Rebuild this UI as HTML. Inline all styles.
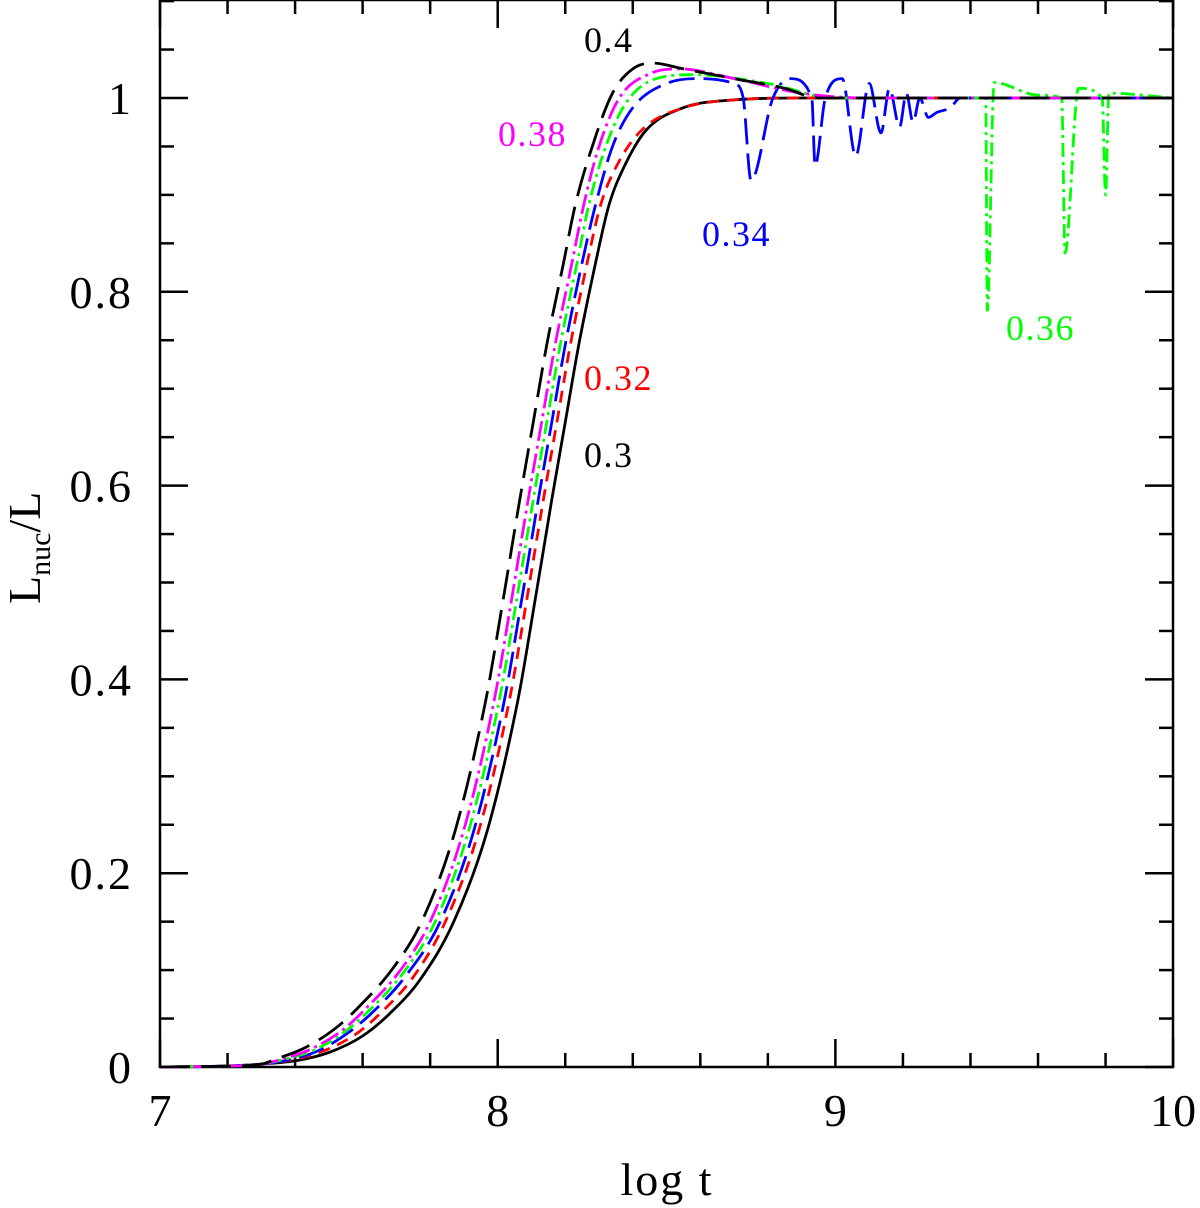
<!DOCTYPE html>
<html><head><meta charset="utf-8">
<style>
html,body{margin:0;padding:0;background:#fff;}
svg{display:block;font-family:"Liberation Serif",serif;}
</style></head>
<body>
<svg id="chart" width="1200" height="1208" viewBox="0 0 1200 1208" xmlns="http://www.w3.org/2000/svg">
<g id="axes"></g>
<g id="series" fill="none"></g>
<g id="labels"></g>
</svg>
<script>
const xTicks=[7,8,9,10];
const yTicks=[0,0.2,0.4,0.6,0.8,1];
const yTickLabels=["0","0.2","0.4","0.6","0.8","1"];

const x30=[7,7.2,7.3,7.41,7.5,7.6,7.68,7.77,7.87,7.97,8.06,8.11,8.16,8.2,8.24,8.29,8.33,8.38,8.44,8.55,8.7,8.9,10];
const y30=[0,0.001,0.003,0.007,0.015,0.032,0.055,0.09,0.15,0.245,0.379,0.48,0.585,0.665,0.745,0.83,0.89,0.933,0.967,0.99,0.998,1,1];
const x32=[7,7.2,7.3,7.4,7.48,7.58,7.66,7.75,7.845,7.945,8.035,8.085,8.135,8.175,8.215,8.265,8.305,8.36,8.43,8.55,8.7,8.9,10];
const y32=[0,0.001,0.003,0.008,0.016,0.034,0.058,0.093,0.15,0.245,0.379,0.48,0.585,0.665,0.745,0.83,0.89,0.935,0.968,0.99,0.998,1,1];
const x34=[7,7.2,7.3,7.39,7.47,7.56,7.64,7.73,7.83,7.93,8.02,8.07,8.12,8.16,8.2,8.25,8.29,8.34,8.4,8.5,8.6,8.7,8.727,8.75,8.815,8.866,8.93,8.94,8.97,9.02,9.06,9.1,9.135,9.16,9.19,9.21,9.23,9.25,9.275,9.3,9.34,9.37,10];
const y34=[0,0.001,0.003,0.008,0.017,0.036,0.06,0.095,0.15,0.245,0.379,0.48,0.585,0.665,0.745,0.83,0.89,0.95,0.99,1.015,1.02,1.015,1.0,0.915,1.0,1.02,1.0,0.93,1.0,1.02,0.94,1.015,0.964,1.01,0.97,1.005,0.975,1.0,0.98,0.985,0.99,1.0,1];
const x36=[7,7.2,7.3,7.38,7.46,7.55,7.63,7.72,7.815,7.915,8.005,8.055,8.105,8.145,8.185,8.235,8.27,8.32,8.38,8.47,8.58,8.8,9.0,9.43,9.445,9.45,9.47,9.6,9.67,9.68,9.72,9.79,9.8,9.81,10];
const y36=[0,0.001,0.003,0.009,0.018,0.037,0.062,0.097,0.15,0.245,0.379,0.48,0.585,0.665,0.745,0.83,0.89,0.95,0.995,1.02,1.024,1.015,1.0,1.0,1.0,0.781,1.016,1.003,1.0,0.84,1.01,1.0,0.9,1.005,1];
const x38=[7,7.2,7.3,7.37,7.45,7.54,7.62,7.71,7.8,7.9,7.99,8.04,8.09,8.13,8.17,8.22,8.255,8.3,8.36,8.45,8.54,8.7,8.9,9.1,10];
const y38=[0,0.001,0.003,0.009,0.019,0.038,0.064,0.099,0.15,0.245,0.379,0.48,0.585,0.665,0.745,0.83,0.89,0.95,1.0,1.025,1.03,1.02,1.005,1.0,1];
const x40=[7,7.2,7.3,7.35,7.43,7.52,7.6,7.69,7.775,7.875,7.965,8.015,8.065,8.105,8.145,8.195,8.23,8.28,8.34,8.4,8.46,8.55,8.7,8.85,8.95,10];
const y40=[0,0.001,0.003,0.009,0.02,0.04,0.066,0.102,0.15,0.245,0.379,0.48,0.585,0.665,0.745,0.83,0.89,0.95,1.005,1.03,1.036,1.03,1.02,1.01,1.0,1];

const X=v=>160+(v-7)*337.7;
const Y=v=>1067-v*969;
const NS="http://www.w3.org/2000/svg";
const axes=document.getElementById('axes');
function mk(tag,attrs,parent){const e=document.createElementNS(NS,tag);for(const k in attrs)e.setAttribute(k,attrs[k]);parent.appendChild(e);return e;}

const frame=mk('rect',{x:160,y:0,width:1013,height:1067,fill:'none',stroke:'#000','stroke-width':2.5},axes);


for(let i=0;i<=15;i++){
  const v=7+i*0.2;const major=i%5==0;const L=major?28:14;
  const t1=mk('line',{x1:X(v),x2:X(v),y1:1067,y2:1067-L,stroke:'#000','stroke-width':2.5},axes);
  
  
  const t2=mk('line',{x1:X(v),x2:X(v),y1:0,y2:L,stroke:'#000','stroke-width':2.5},axes);
  
  
}
for(let i=0;i<=22;i++){
  const v=i*0.05;const major=i%4==0;const L=major?28:14;
  const t1=mk('line',{x1:160,x2:160+L,y1:Y(v),y2:Y(v),stroke:'#000','stroke-width':2.5},axes);
  
  
  const t2=mk('line',{x1:1173,x2:1173-L,y1:Y(v),y2:Y(v),stroke:'#000','stroke-width':2.5},axes);
  
  
}
xTicks.forEach(v=>{const t=mk('text',{x:X(v),y:1126,'text-anchor':'middle','font-size':46},axes);t.textContent=String(v);
  
  });
yTicks.forEach((v,i)=>{const t=mk('text',{x:133,y:Y(v)+16,'text-anchor':'end','font-size':46,'letter-spacing':2},axes);t.textContent=yTickLabels[i];
  
  });
const xt=mk('text',{x:667,y:1195,'text-anchor':'middle','font-size':46,'letter-spacing':2},axes);xt.textContent='log  t';


const yt=mk('text',{transform:'translate(40,604) rotate(-90)','font-size':46},axes);


yt.innerHTML='L<tspan font-size="30" dy="10">nuc</tspan><tspan dy="-10">/L</tspan>';

// monotone cubic (Fritsch-Carlson) in pixel space: no overshoot
function smooth(px,py){
  const n=px.length,d=[],m=[];
  for(let i=0;i<n-1;i++)d.push((py[i+1]-py[i])/(px[i+1]-px[i]));
  m[0]=d[0];m[n-1]=d[n-2];
  for(let i=1;i<n-1;i++){m[i]=(d[i-1]*d[i]<=0)?0:(d[i-1]+d[i])/2;}
  for(let i=0;i<n-1;i++){
    if(d[i]===0){m[i]=0;m[i+1]=0;continue;}
    const a=m[i]/d[i],b=m[i+1]/d[i],s=a*a+b*b;
    if(s>9){const t=3/Math.sqrt(s);m[i]=t*a*d[i];m[i+1]=t*b*d[i];}
  }
  let p='M'+px[0].toFixed(1)+','+py[0].toFixed(1);
  for(let i=0;i<n-1;i++){
    const h=(px[i+1]-px[i])/3;
    p+=' C'+(px[i]+h).toFixed(1)+','+(py[i]+m[i]*h).toFixed(1)+' '+(px[i+1]-h).toFixed(1)+','+(py[i+1]-m[i+1]*h).toFixed(1)+' '+px[i+1].toFixed(1)+','+py[i+1].toFixed(1);
  }
  return p;
}
const sg=document.getElementById('series');
const defs=[[x30,y30,'#000','','series-0.3'],[x32,y32,'#f00','12 8','series-0.32'],[x34,y34,'#00f','26 9','series-0.34'],[x36,y36,'#0f0','14 5 3 5','series-0.36'],[x38,y38,'#f0f','20 5 3 5','series-0.38'],[x40,y40,'#000','30 11','series-0.4']];
defs.forEach(d=>{
  const p=mk('path',{d:smooth(d[0].map(X),d[1].map(Y)),stroke:d[2],'stroke-width':2.8,'stroke-dasharray':d[3],'stroke-linejoin':'round'},sg);
  
  
});
const lab=document.getElementById('labels');
[['0.4',584,52,'#000'],['0.38',498,146,'#f0f'],['0.34',702,246,'#00f'],['0.36',1006,340,'#0f0'],['0.32',584,390,'#f00'],['0.3',584,467,'#000']].forEach(l=>{
  const t=mk('text',{x:l[1],y:l[2],'font-size':36,'letter-spacing':1.5,fill:l[3]},lab);t.textContent=l[0];
  
  
});
</script>
</body></html>
